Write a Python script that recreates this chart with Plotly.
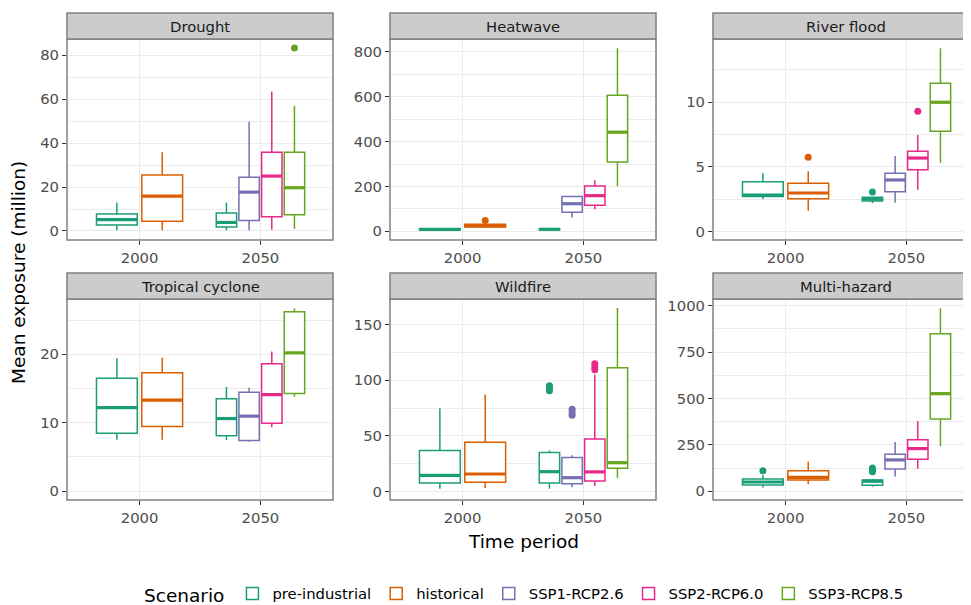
import plotly.graph_objects as go

# ---------------- data ----------------
hazards = ["Drought", "Heatwave", "River flood", "Tropical cyclone", "Wildfire", "Multi-hazard"]
scenarios = ["pre-industrial", "historical", "SSP1-RCP2.6", "SSP2-RCP6.0", "SSP3-RCP8.5"]
scenario_colors = ["#1B9E77", "#D95F02", "#7570B3", "#E7298A", "#66A61E"]
periods = ["2000", "2050"]

# the six boxes drawn in every panel (period, scenario)
box_period = ["2000", "2000", "2050", "2050", "2050", "2050"]
box_scenario = ["pre-industrial", "historical", "pre-industrial",
                "SSP1-RCP2.6", "SSP2-RCP6.0", "SSP3-RCP8.5"]

# box statistics, one row per hazard, one value per box
lower_fence = [
    [0.3, 0.3, 0.3, 0.3, 0.6, 0.9],
    [5, 15, 5, 62, 98, 201],
    [2.48, 1.6, 2.17, 2.22, 3.23, 5.32],
    [7.5, 7.5, 7.45, 7.2, 9.34, 13.8],
    [2.4, 3.0, 2.4, 3.6, 4.8, 11.7],
    [21, 38, 25, 79, 122, 242],
]
q1 = [
    [2.7, 4.4, 1.8, 4.8, 6.5, 7.4],
    [7, 19, 7, 85, 116, 309],
    [2.69, 2.53, 2.35, 3.07, 4.78, 7.75],
    [8.47, 9.44, 8.1, 7.4, 9.93, 14.26],
    [7.5, 8.1, 7.5, 6.9, 9.3, 20.7],
    [34, 61, 32, 120, 172, 390],
]
median = [
    [5.2, 15.9, 3.9, 17.7, 25.0, 19.7],
    [9, 25, 9, 123, 159, 442],
    [2.8, 2.97, 2.5, 3.98, 5.68, 10.0],
    [12.2, 13.3, 10.6, 10.95, 14.1, 20.2],
    [14.4, 15.6, 17.7, 12.3, 17.5, 25.8],
    [50, 75, 54, 169, 230, 526],
]
q3 = [
    [7.7, 25.5, 8.2, 24.5, 35.8, 35.8],
    [11, 31, 11, 155, 202, 607],
    [3.85, 3.72, 2.64, 4.5, 6.2, 11.47],
    [16.5, 17.3, 13.5, 14.45, 18.6, 26.2],
    [36.7, 44.2, 34.9, 30.4, 47.2, 111.2],
    [66, 111, 61, 199, 278, 849],
]
upper_fence = [
    [13.0, 35.8, 13.0, 49.7, 63.5, 57.0],
    [13, 35, 13, 158, 228, 816],
    [4.5, 4.65, 2.7, 5.84, 7.47, 14.19],
    [19.4, 19.5, 15.2, 15.1, 20.4, 26.7],
    [74.8, 87.2, 36.7, 32.5, 104.9, 165],
    [88, 160, 66, 266, 377, 986],
]
outliers = [
    [[], [], [], [], [], [83.3]],
    [[], [48], [], [], [], []],
    [[], [5.74], [3.05], [], [9.3], []],
    [[], [], [], [], [], []],
    [[], [], [95, 92.5, 90.5], [74, 71, 68.5], [115, 112, 109.5], []],
    [[111], [], [125, 115, 105], [], [], []],
]

# y-axis ticks / ranges per panel
y_dtick = [20, 200, 5, 10, 50, 250]
y_range = [[-4.1, 87.4], [-38.8, 857.8], [-0.67, 14.9],
           [-1.3, 28.07], [-7.8, 173.2], [-47, 1036]]

# ---------------- layout geometry (page pixels) ----------------
PAGE_W, PAGE_H = 971, 605
OFF = 8                      # default body margin of the html page
W, H = PAGE_W - OFF, PAGE_H - OFF
col_px = [(67, 333), (390, 656), (713, 979)]
row_px = [(39, 240), (299, 500)]
strip_px = [(13, 39), (273, 299)]
X_RANGE = (0.4, 2.6)
FONT = "DejaVu Sans"
GRID = "#EBEBEB"
BORDER = "#808080"


def fx(p):
    return (p - OFF) / W


def fy(p):
    return 1 - (p - OFF) / H


fig = go.Figure()
layout_axes = {}
shapes = []
annotations = []
legend_done = set()

for h, hazard in enumerate(hazards):
    r, c = divmod(h, 3)
    ax_suffix = "" if h == 0 else str(h + 1)
    xref, yref = "x" + ax_suffix, "y" + ax_suffix

    # dodge positions
    counts = {p: box_period.count(p) for p in periods}
    rank = {p: 0 for p in periods}
    for b in range(len(box_period)):
        p = box_period[b]
        n = counts[p]
        slot = 0.75 / n
        center = periods.index(p) + 1 - 0.375 + slot * (rank[p] + 0.5)
        rank[p] += 1
        width = slot * 0.9
        s = box_scenario[b]
        col = scenario_colors[scenarios.index(s)]
        show = s not in legend_done
        legend_done.add(s)
        fig.add_trace(go.Box(
            x=[center], q1=[q1[h][b]], median=[median[h][b]], q3=[q3[h][b]],
            lowerfence=[lower_fence[h][b]], upperfence=[upper_fence[h][b]],
            width=width, boxpoints=False, fillcolor="white",
            line=dict(color=col, width=1.5), whiskerwidth=0,
            name=s, legendgroup=s, showlegend=show,
            legendrank=scenarios.index(s) + 1,
            xaxis=xref, yaxis=yref, hoverinfo="skip",
        ))
        # thicker median (ggplot fatten)
        fig.add_trace(go.Scatter(
            x=[center - width / 2, center + width / 2],
            y=[median[h][b], median[h][b]], mode="lines",
            line=dict(color=col, width=3.2), showlegend=False,
            hoverinfo="skip", xaxis=xref, yaxis=yref,
        ))
        if outliers[h][b]:
            fig.add_trace(go.Scatter(
                x=[center] * len(outliers[h][b]), y=outliers[h][b],
                mode="markers", marker=dict(color=col, size=7),
                showlegend=False, hoverinfo="skip", xaxis=xref, yaxis=yref,
            ))

    x0p, x1p = col_px[c]
    vis_x1 = min(x1p, PAGE_W)
    xr1 = X_RANGE[0] + (X_RANGE[1] - X_RANGE[0]) * (vis_x1 - x0p) / (x1p - x0p)
    y0p, y1p = row_px[r]
    layout_axes["xaxis" + ax_suffix] = dict(
        domain=[fx(x0p), fx(vis_x1)], range=[X_RANGE[0], xr1],
        anchor=yref, tickvals=[1, 2], ticktext=periods, automargin=False,
        showgrid=True, gridcolor=GRID, gridwidth=1.3, zeroline=False,
        ticks="outside", ticklen=4, tickwidth=1.2, tickcolor="#333333",
        tickfont=dict(family=FONT, size=14.8, color="#4D4D4D"),
        showline=False, fixedrange=True,
    )
    dt = y_dtick[h]
    layout_axes["yaxis" + ax_suffix] = dict(
        domain=[fy(y1p), fy(y0p)], range=y_range[h], anchor=xref,
        automargin=False,
        tick0=0, dtick=dt, showgrid=True, gridcolor=GRID, gridwidth=1.3,
        minor=dict(tick0=0, dtick=dt / 2, showgrid=True, gridcolor=GRID,
                   gridwidth=0.7, ticks=""),
        zeroline=False, ticks="outside", ticklen=4, tickwidth=1.2,
        tickcolor="#333333",
        tickfont=dict(family=FONT, size=14.8, color="#4D4D4D"),
        showline=False, fixedrange=True,
    )
    # panel border (right side left open if cropped by the page edge)
    bx0, bx1 = fx(x0p), fx(min(x1p, PAGE_W + 3))
    by0, by1 = fy(y1p), fy(y0p)
    if x1p > PAGE_W:
        path = f"M {bx1},{by1} L {bx0},{by1} L {bx0},{by0} L {bx1},{by0}"
        shapes.append(dict(type="path", xref="paper", yref="paper", path=path,
                           line=dict(color=BORDER, width=1.5), layer="above"))
    else:
        shapes.append(dict(type="rect", xref="paper", yref="paper",
                           x0=bx0, x1=bx1, y0=by0, y1=by1,
                           line=dict(color=BORDER, width=1.5),
                           fillcolor="rgba(0,0,0,0)", layer="above"))
    # strip
    s0, s1 = strip_px[r]
    shapes.append(dict(type="rect", xref="paper", yref="paper",
                       x0=bx0, x1=bx1, y0=fy(s1), y1=fy(s0),
                       line=dict(color=BORDER, width=1.5),
                       fillcolor="#CCCCCC", layer="above"))
    annotations.append(dict(
        text=hazard, xref="paper", yref="paper",
        x=fx((x0p + x1p) / 2), y=fy((s0 + s1) / 2),
        xanchor="center", yanchor="middle", showarrow=False,
        font=dict(family=FONT, size=14.8, color="#1A1A1A"),
    ))

annotations.append(dict(
    text="Mean exposure (million)", xref="paper", yref="paper",
    x=fx(18), y=fy(273), textangle=-90, xanchor="center", yanchor="middle",
    showarrow=False, font=dict(family=FONT, size=18.5, color="black"),
))
annotations.append(dict(
    text="Time period", xref="paper", yref="paper",
    x=fx(523), y=fy(541), xanchor="center", yanchor="middle",
    showarrow=False, font=dict(family=FONT, size=18.5, color="black"),
))

fig.update_layout(
    width=W, height=H, autosize=False,
    margin=dict(l=0, r=0, t=0, b=0, autoexpand=False),
    paper_bgcolor="white", plot_bgcolor="white",
    boxmode="overlay",
    shapes=shapes, annotations=annotations,
    showlegend=True,
    legend=dict(
        orientation="h", x=fx(142), xanchor="left", y=fy(595), yanchor="middle",
        title=dict(text="Scenario", side="left",
                   font=dict(family=FONT, size=18.5, color="black")),
        font=dict(family=FONT, size=14.8, color="black"),
        bgcolor="rgba(0,0,0,0)", traceorder="normal", itemwidth=30,
    ),
    **layout_axes,
)

fig.write_html("out.html")
